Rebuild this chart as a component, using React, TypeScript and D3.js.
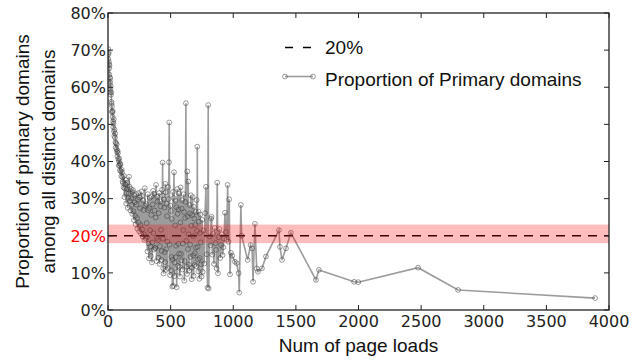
import React from "react";
import * as d3 from "d3";

// number of page loads (x) and share of primary domains in % (y)
const loadCounts = [
  2, 4, 6, 8, 10, 12, 14, 16, 18, 20,
  23, 26, 29, 32, 35, 38, 41, 44, 48, 52,
  56, 60, 64, 68, 72, 77, 82, 87, 92, 97,
  103, 109, 115,
  120, 127, 134, 141, 148, 155, 162, 168, 175, 182,
  189, 196, 203, 210, 217, 224, 231, 238, 245, 252,
  259, 266, 273, 280, 287, 294, 300,
  306, 312, 318, 324, 330, 336, 342, 348, 354, 360,
  366, 372, 378, 384, 390, 396, 402, 408, 414, 420,
  426, 432, 436, 441, 447, 453, 458, 463, 468, 474,
  480, 487, 489, 495, 501, 507, 513, 519, 521, 527,
  533, 539, 543, 548, 553, 558, 563, 568, 575, 580,
  586, 592, 598, 604, 609, 615, 622, 628, 633, 638,
  641, 646, 651, 656, 661, 668, 672, 676, 681, 686,
  691, 696, 701, 708, 713, 718, 723, 729, 734, 740,
  748, 752, 756,
  762, 768, 775, 782, 788, 795, 800, 804, 812, 818,
  823, 827, 833, 840, 846, 852, 858, 863, 867, 872,
  878, 884, 890, 896, 903, 909, 915, 921, 926, 934,
  941, 947, 955, 962, 968, 974, 981, 992, 1013, 1027,
  1043, 1048, 1061, 1067, 1115, 1138, 1150, 1158, 1173, 1187,
  1197, 1229, 1261, 1365, 1373, 1389, 1421, 1460, 1660, 1684,
  1965, 1998, 2476, 2795, 3889,
];

const primaryShare = [
  70.3, 68.9, 69.4, 66.8, 65.1, 65.9, 62.7, 61.5, 62.4, 59.5,
  58.0, 58.6, 55.6, 54.9, 53.2, 53.6, 50.8, 50.2, 48.1, 48.6,
  46.4, 45.2, 44.9, 43.3, 42.6, 42.9, 40.7, 40.1, 39.0, 39.4,
  37.4, 37.8, 35.8,
  34.2, 36.1, 32.8, 35.0, 31.5, 34.3, 30.2, 35.9, 29.4, 32.6,
  28.3, 31.8, 26.6, 30.9, 25.4, 31.2, 24.8, 29.7, 23.5, 30.3,
  22.9, 31.9, 21.7, 29.5, 20.4, 32.8, 19.3,
  28.5, 19.6, 31.2, 17.9, 27.4, 21.5, 14.5, 30.6, 18.2, 32.1,
  16.3, 26.8, 16.7, 33.7, 19.4, 29.2, 14.1, 31.5, 17.2, 27.9,
  13.5, 32.4, 39.7, 11.2, 29.8, 15.6, 34.0, 10.8, 28.6, 18.4,
  33.1, 39.8, 50.5, 9.4, 26.7, 14.3, 6.3, 31.8, 6.5, 37.1,
  12.8, 29.4, 17.3, 6.1, 32.6, 11.9, 27.1, 15.2, 9.0, 33.0,
  13.4, 29.6, 17.9, 31.2, 7.9, 24.8, 55.7, 11.7, 37.3, 16.4,
  34.6, 12.2, 28.3, 17.6, 30.9, 8.3, 25.6, 30.4, 14.7, 27.8,
  12.1, 22.9, 16.8, 29.6, 44.0, 13.6, 26.5, 8.4, 20.7, 18.2,
  9.0, 24.3, 10.3,
  21.4, 12.5, 26.1, 33.2, 15.0, 6.0, 55.2, 5.8, 19.8, 17.4,
  24.6, 25.1, 14.9, 20.5, 12.4, 22.1, 18.0, 16.2, 11.2, 34.3,
  9.9, 19.6, 21.8, 14.0, 17.5, 20.4, 14.8, 16.9, 19.2, 26.2,
  21.0, 18.9, 33.7, 18.4, 29.8, 9.6, 15.4, 14.6, 13.0, 12.6,
  9.9, 4.7, 28.3, 20.0, 13.5, 17.5, 16.6, 7.6, 23.2, 11.2,
  10.3, 11.2, 14.4, 21.5, 17.0, 13.5, 16.6, 20.8, 8.1, 10.8,
  7.6, 7.5, 11.4, 5.4, 3.2,
];

const denseCounts = [
  3, 7, 11, 15, 19, 22, 27, 31, 36, 42,
  46, 50, 58, 62, 70, 75, 80, 85, 90, 95,
  100, 106, 112, 117,
  124, 131, 138, 145, 152, 158, 165, 172, 179, 186,
  193, 200, 207, 214, 221, 228, 235, 242, 249, 256,
  263, 270, 277, 284, 291, 297,
  309, 315, 321, 327, 333, 339, 345, 351, 357, 363,
  369, 375, 381, 387, 393, 399, 405, 411, 417, 423,
  429, 434, 439, 444, 450, 456, 461, 466, 471, 477,
  483, 492, 498, 504, 510, 516, 524, 530, 536, 541,
  546, 551, 556, 561, 566, 572, 578, 583, 589, 595,
  601, 607, 612, 618, 625, 631, 636, 643, 649, 654,
  659, 665, 670, 679, 684, 689, 694, 699, 705, 711,
  716, 721, 726, 732, 737, 744,
];

const denseShare = [
  67.6, 66.2, 63.4, 61.0, 58.7, 60.3, 56.1, 53.5, 52.0, 49.3,
  51.4, 46.9, 47.5, 43.8, 44.6, 41.4, 42.3, 38.9, 40.8, 37.6,
  39.2, 36.1, 37.1, 34.6,
  33.0, 30.4, 33.9, 28.7, 32.6, 27.5, 31.4, 33.2, 26.8, 30.1,
  25.9, 32.3, 24.2, 29.0, 23.1, 28.4, 21.9, 31.5, 21.2, 27.4,
  20.6, 30.7, 19.8, 26.9, 18.9, 28.1,
  23.4, 15.8, 26.9, 13.9, 30.2, 17.1, 25.6, 12.8, 28.4, 20.7,
  31.3, 16.7, 24.9, 13.2, 30.6, 18.8, 26.1, 12.4, 29.3, 21.6,
  15.9, 30.8, 19.2, 9.8, 27.6, 12.9, 31.7, 16.4, 25.3, 11.3,
  29.9, 17.6, 28.1, 10.7, 24.5, 13.6, 30.2, 9.1, 22.8, 14.2,
  27.7, 10.3, 25.9, 17.8, 31.4, 11.6, 23.6, 15.1, 27.3, 10.9,
  21.5, 26.4, 13.2, 29.1, 18.6, 9.7, 25.2, 20.4, 10.6, 26.0,
  14.3, 22.7, 11.4, 19.9, 9.2, 24.6, 15.3, 26.4, 11.8, 21.3,
  17.0, 10.4, 23.8, 14.0, 25.7, 12.3,
];

const xTicks = [0, 500, 1000, 1500, 2000, 2500, 3000, 3500, 4000];
const yTicks = [0, 10, 20, 30, 40, 50, 60, 70, 80];
const refLevel = 20;
const bandLow = 18;
const bandHigh = 23;

const tickFont = "'DejaVu Sans', sans-serif";
const labelFont = "'Liberation Sans', Arial, sans-serif";

export default function App() {
  const width = 642;
  const height = 360;
  const left = 108;
  const right = 609;
  const top = 13;
  const bottom = 310;

  const x = d3.scaleLinear([0, 4000], [left, right]);
  const y = d3.scaleLinear([0, 80], [bottom, top]);

  const pts: [number, number][] = d3.sort(
    [
      ...loadCounts.map((c, i) => [c, primaryShare[i]] as [number, number]),
      ...denseCounts.map((c, i) => [c, denseShare[i]] as [number, number]),
    ],
    (d) => d[0]
  );
  const line = d3
    .line<[number, number]>()
    .x((d) => x(d[0]))
    .y((d) => y(d[1]));

  const lineColor = "#3a3a3a";
  const lineAlpha = 0.5;

  return (
    <svg
      width={width}
      height={height}
      style={{ position: "absolute", top: 0, left: 0, background: "#fff" }}
    >
      <defs>
        <clipPath id="plot">
          <rect x={left} y={top} width={right - left} height={bottom - top} />
        </clipPath>
      </defs>

      {/* reference line */}
      <line
        x1={left}
        x2={right}
        y1={y(refLevel)}
        y2={y(refLevel)}
        stroke="#000"
        strokeWidth={1.6}
        strokeDasharray="9,7"
      />

      {/* data */}
      <g clipPath="url(#plot)">
        <path
          d={line(pts) || ""}
          fill="none"
          stroke={lineColor}
          strokeOpacity={lineAlpha}
          strokeWidth={1.6}
        />
        {pts.map((d, i) => (
          <circle
            key={i}
            cx={x(d[0])}
            cy={y(d[1])}
            r={2.4}
            fill="none"
            stroke={lineColor}
            strokeOpacity={lineAlpha}
            strokeWidth={1}
          />
        ))}
      </g>

      {/* +/- band */}
      <rect
        x={left}
        y={y(bandHigh)}
        width={right - left}
        height={y(bandLow) - y(bandHigh)}
        fill="#ff0000"
        fillOpacity={0.26}
      />

      {/* frame */}
      <rect
        x={left}
        y={top}
        width={right - left}
        height={bottom - top}
        fill="none"
        stroke="#222"
        strokeWidth={1.3}
      />

      {/* x ticks */}
      {xTicks.map((t) => (
        <g key={`x${t}`}>
          <line x1={x(t)} x2={x(t)} y1={bottom} y2={bottom - 5} stroke="#222" />
          <line x1={x(t)} x2={x(t)} y1={top} y2={top + 5} stroke="#222" />
          <text
            x={x(t)}
            y={327}
            textAnchor="middle"
            fontFamily={tickFont}
            fontSize={16}
            fill="#222"
          >
            {t}
          </text>
        </g>
      ))}

      {/* y ticks */}
      {yTicks.map((t) => (
        <g key={`y${t}`}>
          <line x1={left} x2={left + 5} y1={y(t)} y2={y(t)} stroke="#222" />
          <line x1={right} x2={right - 5} y1={y(t)} y2={y(t)} stroke="#222" />
          <text
            x={left - 2}
            y={y(t)}
            dy="0.36em"
            textAnchor="end"
            fontFamily={tickFont}
            fontSize={16}
            fill={t === refLevel ? "#ff0000" : "#222"}
          >
            {`${t}%`}
          </text>
        </g>
      ))}

      {/* axis labels */}
      <text
        x={(left + right) / 2}
        y={352}
        textAnchor="middle"
        fontFamily={labelFont}
        fontSize={19}
        fill="#111"
      >
        Num of page loads
      </text>
      <g transform={`translate(0,${(top + bottom) / 2}) rotate(-90)`}>
        <text x={0} y={29} textAnchor="middle" fontFamily={labelFont} fontSize={19} fill="#111">
          Proportion of primary domains
        </text>
        <text x={0} y={55} textAnchor="middle" fontFamily={labelFont} fontSize={19} fill="#111">
          among all distinct domains
        </text>
      </g>

      {/* legend */}
      <g fontFamily={labelFont} fontSize={19} fill="#111">
        <line x1={285} x2={312} y1={47.5} y2={47.5} stroke="#000" strokeWidth={1.6} strokeDasharray="8,10" />
        <text x={325} y={54}>
          20%
        </text>
        <line x1={285} x2={313} y1={76.5} y2={76.5} stroke={lineColor} strokeOpacity={lineAlpha} strokeWidth={1.6} />
        <circle cx={285} cy={76.5} r={2.4} fill="none" stroke={lineColor} strokeOpacity={lineAlpha} />
        <circle cx={313} cy={76.5} r={2.4} fill="none" stroke={lineColor} strokeOpacity={lineAlpha} />
        <text x={325} y={86}>
          Proportion of Primary domains
        </text>
      </g>
    </svg>
  );
}
